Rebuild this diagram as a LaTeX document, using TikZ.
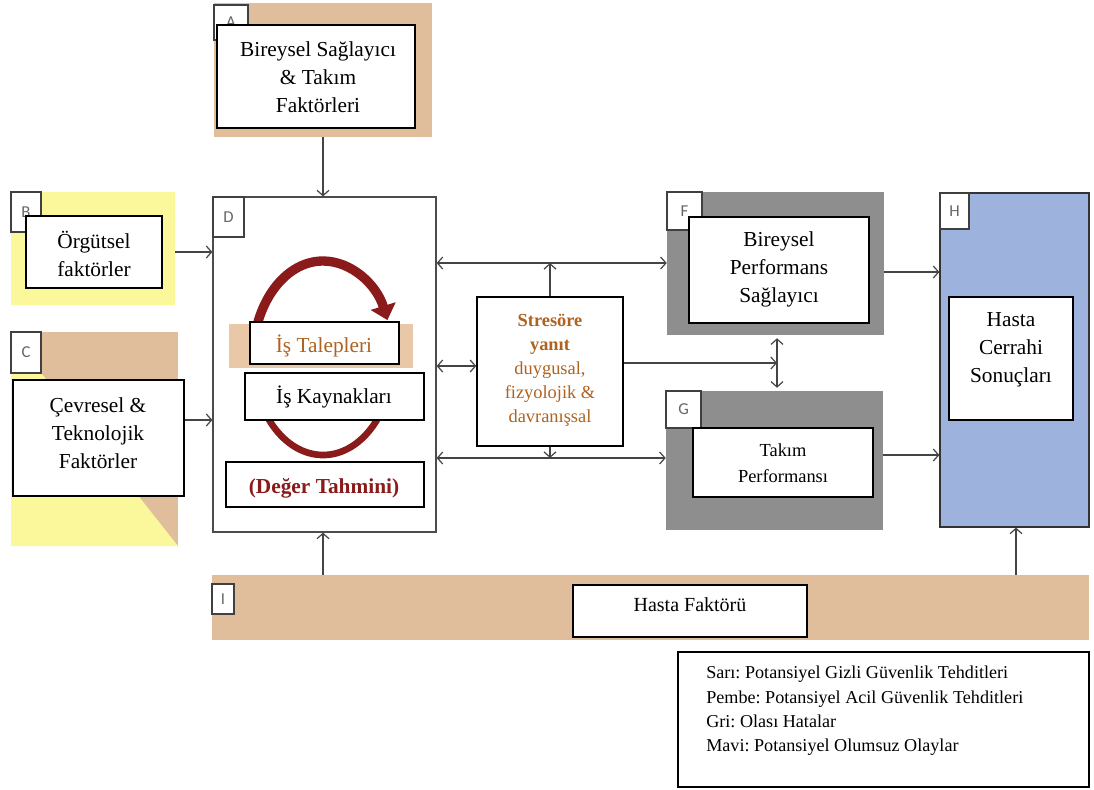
\documentclass[tikz,border=0pt]{standalone}
\usepackage{fontspec}
\setmainfont{Liberation Serif}
\newfontfamily\tagfont{Carlito}
\frenchspacing
\usetikzlibrary{arrows.meta,fit,calc}
\definecolor{tanc}{HTML}{E0BE9C}
\definecolor{tanbar}{HTML}{E8C8A6}
\definecolor{yelc}{HTML}{FBF89C}
\definecolor{grayc}{HTML}{8E8E8E}
\definecolor{bluec}{HTML}{9DB2DC}
\definecolor{darkred}{HTML}{8B1A1A}
\definecolor{orangec}{HTML}{B0621F}
\definecolor{linec}{HTML}{444444}
\begin{document}
\begin{tikzpicture}[x=0.75pt,y=-0.75pt,
  wbox/.style={draw=black, line width=1.1pt, fill=white, inner sep=0pt},
  txt/.style={align=center, inner sep=0pt, font=\fontsize{16}{21}\selectfont},
  bgbox/.style={inner sep=0pt, draw=none},
  tagbox/.style={draw=black!75, line width=0.8pt, fill=white, inner sep=0pt},
  taglet/.style={inner sep=0pt, font=\tagfont\fontsize{12.5}{14}\selectfont, text=black!60},
  conn/.style={draw=linec, line width=0.9pt, -{Straight Barb[length=4pt,width=9pt]}},
  dconn/.style={draw=linec, line width=0.9pt, {Straight Barb[length=4pt,width=9pt]}-{Straight Barb[length=4pt,width=9pt]}},
  cyc/.style={draw=darkred, line cap=butt}
]
\useasboundingbox (0,0) rectangle (1094,789);

% helper coordinates
\coordinate (y252) at (0,252);
\coordinate (y420) at (0,420);
\coordinate (y263) at (0,263);
\coordinate (y366) at (0,366);
\coordinate (y458) at (0,458);
\coordinate (y363) at (0,363);
\coordinate (y272) at (0,272);
\coordinate (y455) at (0,455);
\coordinate (x323) at (323,0);
\coordinate (x1016) at (1016,0);
\coordinate (fg) at (777,363);

% A
\node[bgbox, fill=tanc, fit={(214,3) (432,137)}] (Abg) {};
\node[tagbox, fit={(214,5) (248,40)}] (Atag) {};
\node[taglet] (Al) at (Atag.center) {A};
\node[wbox, fit={(217,25) (415,128)}] (Aw) {};
\node[txt] (At) at (318,77) {Bireysel Sağlayıcı\\\& Takım\\Faktörleri};

% B
\node[bgbox, fill=yelc, fit={(11,192) (175,305)}] (Bbg) {};
\node[tagbox, fit={(11,192) (41,232)}] (Btag) {};
\node[taglet] (Bl) at (Btag.center) {B};
\node[wbox, fit={(26,216) (162,288)}] (Bw) {};
\node[txt] (Bt) at (94,254) {Örgütsel\\faktörler};

% C
\node[bgbox, fill=tanc, fit={(11,332) (178,546)}] (Cbg) {};
\fill[yelc] (11,373) -- (41,373) -- (178,546) -- (11,546) -- cycle;
\node[tagbox, fit={(11,332) (41,373)}] (Ctag) {};
\node[taglet] (Cl) at (Ctag.center) {C};
\node[wbox, fit={(13,380) (184,496)}] (Cw) {};
\node[txt] (Ct) at (98,433) {Çevresel \&\\Teknolojik\\Faktörler};

% D
\node[draw=black!70, line width=0.9pt, fill=white, inner sep=0pt, fit={(213,197) (436,532)}] (D) {};
\node[tagbox, fit={(213,197) (244,237)}] (Dtag) {};
\node[taglet] (Dl) at (Dtag.center) {D};
\draw[cyc, line width=7pt, -{Triangle[length=11pt,width=19pt]}]
  (253,358) arc[start angle=180, end angle=337, x radius=70, y radius=97];
\draw[cyc, line width=5pt] (262.4,406.5) arc[start angle=150, end angle=30, x radius=70, y radius=97];
\node[bgbox, fill=tanbar, fit={(229,324) (413,368)}] (Tbar) {};
\node[wbox, fit={(250,322) (399,364)}] (Talep) {};
\node[txt, text=orangec] (Talept) at (324,346) {İş Talepleri};
\node[wbox, fit={(245,373) (424,420)}] (Kayn) {};
\node[txt] (Kaynt) at (334,397) {İş Kaynakları};
\node[wbox, fit={(226,462) (424,507)}] (Deger) {};
\node[txt, text=darkred, font=\bfseries\fontsize{16}{21}\selectfont] (Degert) at (324,488) {(Değer Tahmini)};

% Stress
\node[wbox, fit={(477,297) (623,446)}] (S) {};
\node[txt, text=orangec, font=\fontsize{13.8}{18}\selectfont] (St) at (550,370)
  {\textbf{Stresöre}\\\textbf{yanıt}\\duygusal,\\fizyolojik \&\\davranışsal};

% F
\node[bgbox, fill=grayc, fit={(667,192) (884,335)}] (Fbg) {};
\node[tagbox, fit={(667,192) (702,230)}] (Ftag) {};
\node[taglet] (Fl) at (Ftag.center) {F};
\node[wbox, fit={(689,217) (869,323)}] (Fw) {};
\node[txt] (Ft) at (779,269) {Bireysel\\Performans\\Sağlayıcı};

% G
\node[bgbox, fill=grayc, fit={(666,391) (883,530)}] (Gbg) {};
\node[tagbox, fit={(666,391) (701,428)}] (Gtag) {};
\node[taglet] (Gl) at (Gtag.center) {G};
\node[wbox, fit={(693,428) (873,497)}] (Gw) {};
\node[txt, font=\fontsize{13.8}{19.5}\selectfont] (Gt) at (783,463) {Takım\\Performansı};

% H
\node[bgbox, fill=bluec, draw=black!80, line width=0.9pt, fit={(940,193) (1089,527)}] (H) {};
\node[tagbox, fit={(940,193) (969,229)}] (Htag) {};
\node[taglet] (Hl) at (Htag.center) {H};
\node[wbox, fit={(949,297) (1073,420)}] (Hw) {};
\node[txt] (Ht) at (1011,350) {Hasta\\Cerrahi\\Sonuçları};

% I
\node[bgbox, fill=tanc, fit={(212,575) (1089,640)}] (I) {};
\node[tagbox, fit={(212,584) (234,614)}] (Itag) {};
\node[taglet] (Il) at (Itag.center) {I};
\node[wbox, fit={(573,585) (807,637)}] (Iw) {};
\node[txt, font=\fontsize{15}{18}\selectfont] (It) at (690,605) {Hasta Faktörü};

% Legend
\node[draw=black, line width=1pt, inner sep=0pt, fit={(678,652) (1089,787)}] (Leg) {};
\node[anchor=north west, align=left, inner sep=0pt, font=\fontsize{13.6}{18.2}\selectfont] (LegT) at (706,666)
  {Sarı: Potansiyel Gizli Güvenlik Tehditleri\\
   Pembe: Potansiyel Acil Güvenlik Tehditleri\\
   Gri: Olası Hatalar\\
   Mavi: Potansiyel Olumsuz Olaylar};

% connectors
\draw[conn] (Abg.south) -- (Abg.south |- D.north);
\draw[conn] (Bbg.east |- y252) -- (D.west |- y252);
\draw[conn] (Cw.east |- y420) -- (D.west |- y420);
\draw[dconn] (D.east |- y263) -- (Fbg.west |- y263);
\draw[dconn] (D.east |- y366) -- (S.west |- y366);
\draw[dconn] (D.east |- y458) -- (Gbg.west |- y458);
\draw[conn] (S.north) -- (S.north |- y263);
\draw[conn] (S.south) -- (S.south |- y458);
\draw[conn] (S.east |- y363) -- (fg);
\draw[dconn] ($(Fbg.south -| fg)+(0,3)$) -- ($(Gbg.north -| fg)+(0,-3)$);
\draw[conn] (Fbg.east |- y272) -- (H.west |- y272);
\draw[conn] (Gbg.east |- y455) -- (H.west |- y455);
\draw[conn] (I.north -| x323) -- (D.south -| x323);
\draw[conn] (I.north -| x1016) -- (H.south -| x1016);
\end{tikzpicture}
\end{document}
